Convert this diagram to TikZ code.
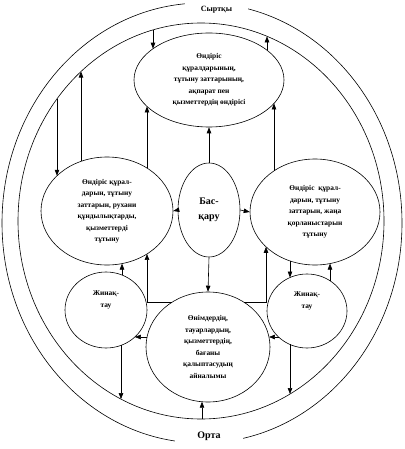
\documentclass[tikz,border=0pt]{standalone}
\usepackage{fontspec}
\setmainfont{Liberation Serif}
\usetikzlibrary{shapes.geometric,arrows.meta,calc}
\newcommand\onE[5]{($(#1.center)+(#4,{(#5)*(#3)*sqrt(1-((#4)/(#2))^2)})$)}
\newcommand\onH[5]{($(#1.center)+({(#5)*(#2)*sqrt(1-((#4)/(#3))^2)},#4)$)}
\begin{document}
\begin{tikzpicture}[x=1pt,y=-1pt,
  ell/.style={ellipse, draw, line width=0.6pt, inner sep=0pt},
  txt/.style={font=\bfseries\fontsize{7.4}{11.5}\selectfont, align=center},
  arr/.style={-{Triangle[length=6pt,width=4.5pt]}, line width=0.6pt}]
\useasboundingbox (0,0) rectangle (404,449);
\node[ell, minimum width=400pt, minimum height=440pt] (outer) at (202,223) {};
\node[ell, minimum width=366pt, minimum height=396pt] (inner) at (201,221) {};
\node[ell, txt, minimum width=150pt, minimum height=94pt] (T) at (209,80) {Өндіріс\\құралдарының,\\тұтыну заттарының,\\ақпарат пен\\қызметтердің өндірісі};
\node[ell, txt, minimum width=132pt, minimum height=108pt] (L) at (107,211) {Өндіріс құрал-\\дарын, тұтыну\\заттарын, рухани\\құндылықтарды,\\қызметтерді\\тұтыну};
\node[ell, txt, minimum width=130pt, minimum height=106pt] (R) at (315,212) {Өндіріс \ құрал-\\дарын, тұтыну\\заттарын, жаңа\\қорланыстарын\\тұтыну};
\node[ell, font=\bfseries\fontsize{10}{15}\selectfont, align=center, minimum width=62pt, minimum height=94pt] (C) at (209,210) {Бас-\\қару};
\node[ell, minimum width=82pt, minimum height=76pt, label={[txt, yshift=10pt]center:{Жинақ-\\тау}}] (JL) at (106,310) {};
\node[ell, minimum width=80pt, minimum height=74pt, label={[txt, yshift=10pt]center:{Жинақ-\\тау}}] (JR) at (307,311) {};
\node[ell, txt, minimum width=124pt, minimum height=110pt] (B) at (208,347) {Өнімдердің,\\тауарлардың,\\қызметтердің,\\бағаны\\қалыптасудың\\айналымы};
% labels on the outer ellipse
\node[fill=white, inner sep=0pt, minimum width=63pt, minimum height=18pt, font=\bfseries\fontsize{8}{10}\selectfont] (sy) at (216.5,10) {Сыртқы};
\node[fill=white, inner sep=0pt, minimum width=68pt, minimum height=22pt, font=\bfseries\fontsize{10}{12}\selectfont] (orta) at (209,436) {Орта};
% arrows
\draw[arr] \onE{inner}{183}{198}{-48}{-1} -- \onE{T}{75}{47}{-56}{-1};
\draw[arr] \onE{T}{75}{47}{58}{-1} -- \onE{inner}{183}{198}{66}{-1};
\draw[arr] \onE{inner}{183}{198}{-144}{-1} -- \onE{L}{66}{54}{-50}{-1};
\draw[arr] \onE{L}{66}{54}{-26}{-1} -- \onE{inner}{183}{198}{-120}{-1};
\draw[arr] \onE{L}{66}{54}{40}{-1} -- \onE{T}{75}{47}{-62}{1};
\draw[arr] \onE{R}{65}{53}{-41}{-1} -- \onE{T}{75}{47}{65}{1};
\draw[arr] (C.north) -- (T.south);
\draw[arr] (C.west) -- (L.east);
\draw[arr] (C.east) -- (R.west);
\draw[arr] (C.south) -- (B.north);
\draw[arr] \onH{B}{62}{55}{-45}{-1} -| \onE{L}{66}{54}{40}{1};
\draw[arr] \onH{B}{62}{55}{-45}{1} -| \onE{R}{65}{53}{-49}{1};
\draw[arr] \onE{JL}{41}{38}{16}{-1} -- \onE{L}{66}{54}{15}{1};
\draw[arr] \onE{R}{65}{53}{-25}{1} -- \onE{JR}{40}{37}{-17}{-1};
\draw[arr] \onE{JR}{40}{37}{23}{-1} -- \onE{R}{65}{53}{15}{1};
\draw[arr] \onH{JR}{40}{37}{26}{-1} -- \onH{B}{62}{55}{-10}{1};
\draw[arr] \onH{B}{62}{55}{-10}{-1} -- \onH{JL}{41}{38}{27}{1};
\draw[arr] \onE{JL}{41}{38}{15}{1} -- \onE{inner}{183}{198}{-80}{1};
\draw[arr] \onE{JR}{40}{37}{-17}{1} -- \onE{inner}{183}{198}{89}{1};
\draw[arr] \onE{inner}{183}{198}{1}{1} -- \onE{B}{62}{55}{-6}{1};
\end{tikzpicture}
\end{document}
